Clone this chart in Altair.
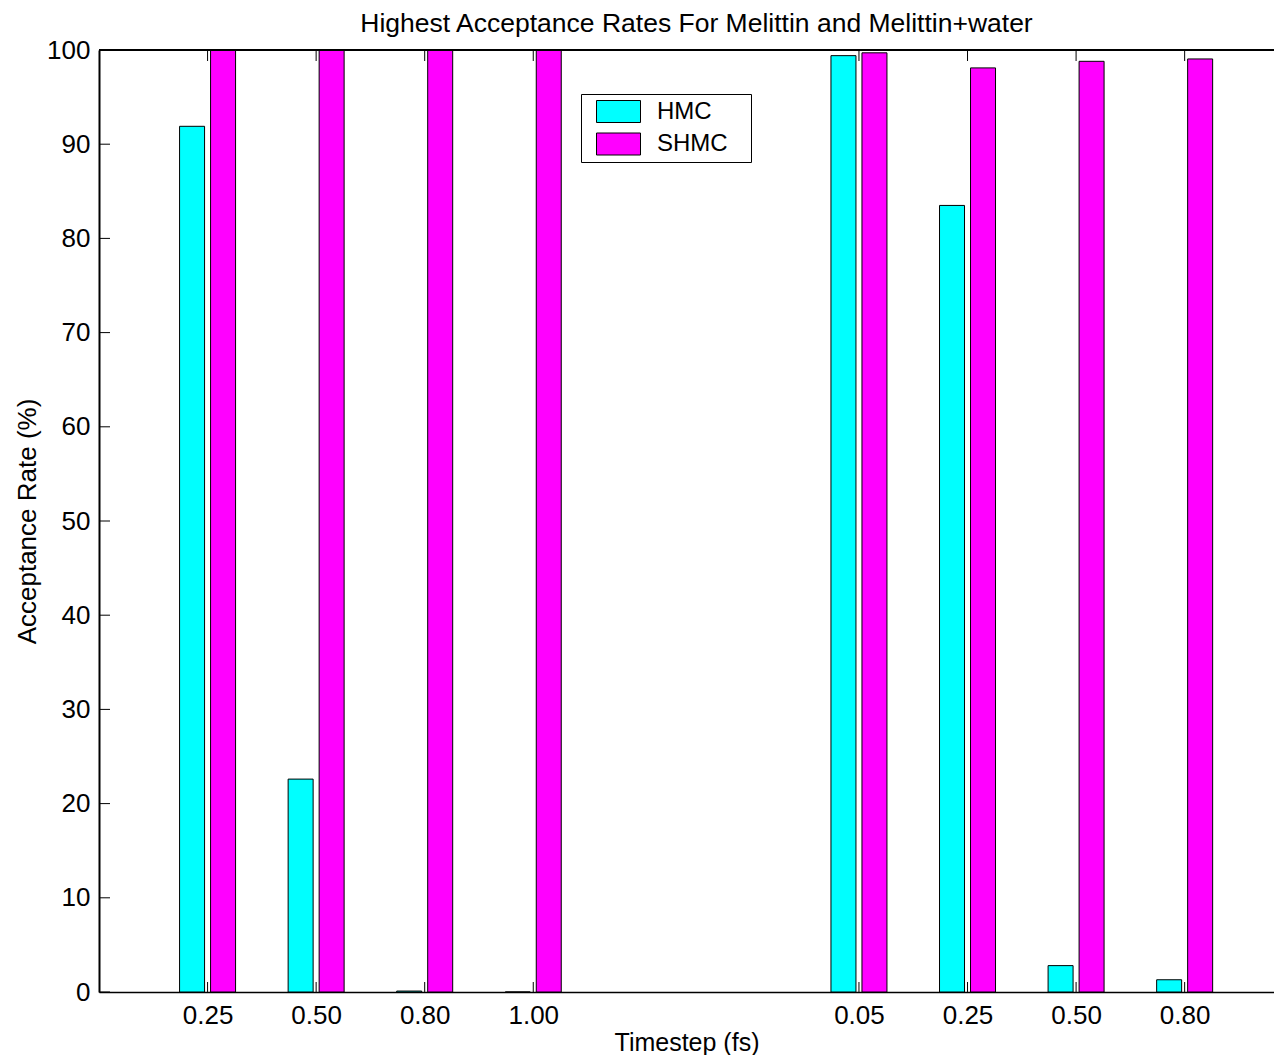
import altair as alt
import pandas as pd

# ---- data ----
positions = [1, 2, 3, 4, 7, 8, 9, 10]
tick_labels = ["0.25", "0.50", "0.80", "1.00", "0.05", "0.25", "0.50", "0.80"]
hmc = [91.9, 22.6, 0.1, 0.0, 99.4, 83.5, 2.8, 1.3]
shmc = [100.0, 100.0, 100.0, 100.0, 99.7, 98.1, 98.8, 99.05]
series = ["HMC", "SHMC"]
colors = ["#00FFFF", "#FF00FF"]
y_ticks = list(range(0, 101, 10))

TITLE = "Highest Acceptance Rates For Melittin and Melittin+water"
FONT = "Liberation Sans"
W, H = 1175, 942
XMAX = 10.823

rows = []
for p, l, h, s in zip(positions, tick_labels, hmc, shmc):
    rows.append({"pos": p, "label": l, "series": "HMC", "value": h})
    rows.append({"pos": p, "label": l, "series": "SHMC", "value": s})
df = pd.DataFrame(rows)
pos_df = pd.DataFrame({"pos": positions})
yt_df = pd.DataFrame({"value": y_ticks})

lab_arr = [""] * 12
for p, l in zip(positions, tick_labels):
    lab_arr[p] = l
label_expr = "[" + ",".join("'" + x + "'" for x in lab_arr) + "][datum.value]"

xscale = alt.Scale(domain=[0, XMAX], nice=False, zero=False, padding=0)
yscale = alt.Scale(domain=[0, 100], nice=False)

xaxis = alt.Axis(values=positions, labelExpr=label_expr, title="Timestep (fs)",
                 labelPadding=10, labelFontSize=26, titleFontSize=25,
                 titleBaseline="alphabetic", titleY=58,
                 ticks=False, grid=False, domainWidth=1.5)
yaxis = alt.Axis(values=y_ticks, title="Acceptance Rate (%)", labelPadding=9,
                 labelFontSize=26, titleFontSize=26,
                 titlePadding=6, ticks=False, grid=False, domainWidth=2)

BLANK = "\u2800"
color = alt.Color("series:N", scale=alt.Scale(domain=series, range=colors),
                  legend=alt.Legend(title=None, orient="none", legendX=482, legendY=44,
                                    labelFontSize=24, labelFont=FONT, labelColor="black",
                                    labelExpr="datum.label + '" + BLANK + "'",
                                    symbolType="M-1,-0.5H1V0.5H-1Z", symbolSize=1936,
                                    symbolStrokeColor="black", symbolStrokeWidth=1,
                                    symbolOpacity=1, strokeColor="black", fillColor="white",
                                    clipHeight=25, padding=5, rowPadding=7.5,
                                    labelOffset=16, symbolOffset=10))


def bars(name, off):
    return alt.Chart(df).transform_filter(alt.datum.series == name).mark_bar(
        size=25, xOffset=off, stroke="black", strokeWidth=1, opacity=1
    ).encode(
        x=alt.X("pos:Q", scale=xscale, axis=xaxis),
        y=alt.Y("value:Q", scale=yscale, axis=yaxis),
        color=color,
    )


ytick_rules = alt.Chart(yt_df).mark_rule(color="black", strokeWidth=1).encode(
    y=alt.Y("value:Q", scale=yscale, axis=yaxis),
    x=alt.value(0), x2=alt.value(11))
top_ticks = alt.Chart(pos_df).mark_rule(color="black", strokeWidth=1).encode(
    x=alt.X("pos:Q", scale=xscale, axis=xaxis),
    y=alt.value(0), y2=alt.value(11))
bot_ticks = alt.Chart(pos_df).mark_rule(color="black", strokeWidth=1).encode(
    x=alt.X("pos:Q", scale=xscale, axis=xaxis),
    y=alt.value(H - 10), y2=alt.value(H))
top_line = alt.Chart(pos_df).mark_rule(color="black", strokeWidth=1.5).encode(
    x=alt.value(0), x2=alt.value(W), y=alt.value(0))

chart = alt.layer(
    bars("HMC", -15.5), bars("SHMC", 15.5), ytick_rules, top_ticks, bot_ticks, top_line
).properties(
    width=W, height=H,
    title=alt.TitleParams(TITLE, fontSize=26.5, font=FONT, fontWeight="normal",
                          color="black", anchor="middle", offset=0, dx=10),
    autosize=alt.AutoSizeParams(type="none"),
    padding={"left": 91, "top": 42, "right": 0, "bottom": 63},
).configure_view(stroke=None).configure_axis(
    labelFont=FONT, titleFont=FONT,
    labelColor="black", titleColor="black", titleFontWeight="normal",
    domainColor="black",
)

chart.save("out.html", embed_options={"renderer": "svg", "actions": False})
